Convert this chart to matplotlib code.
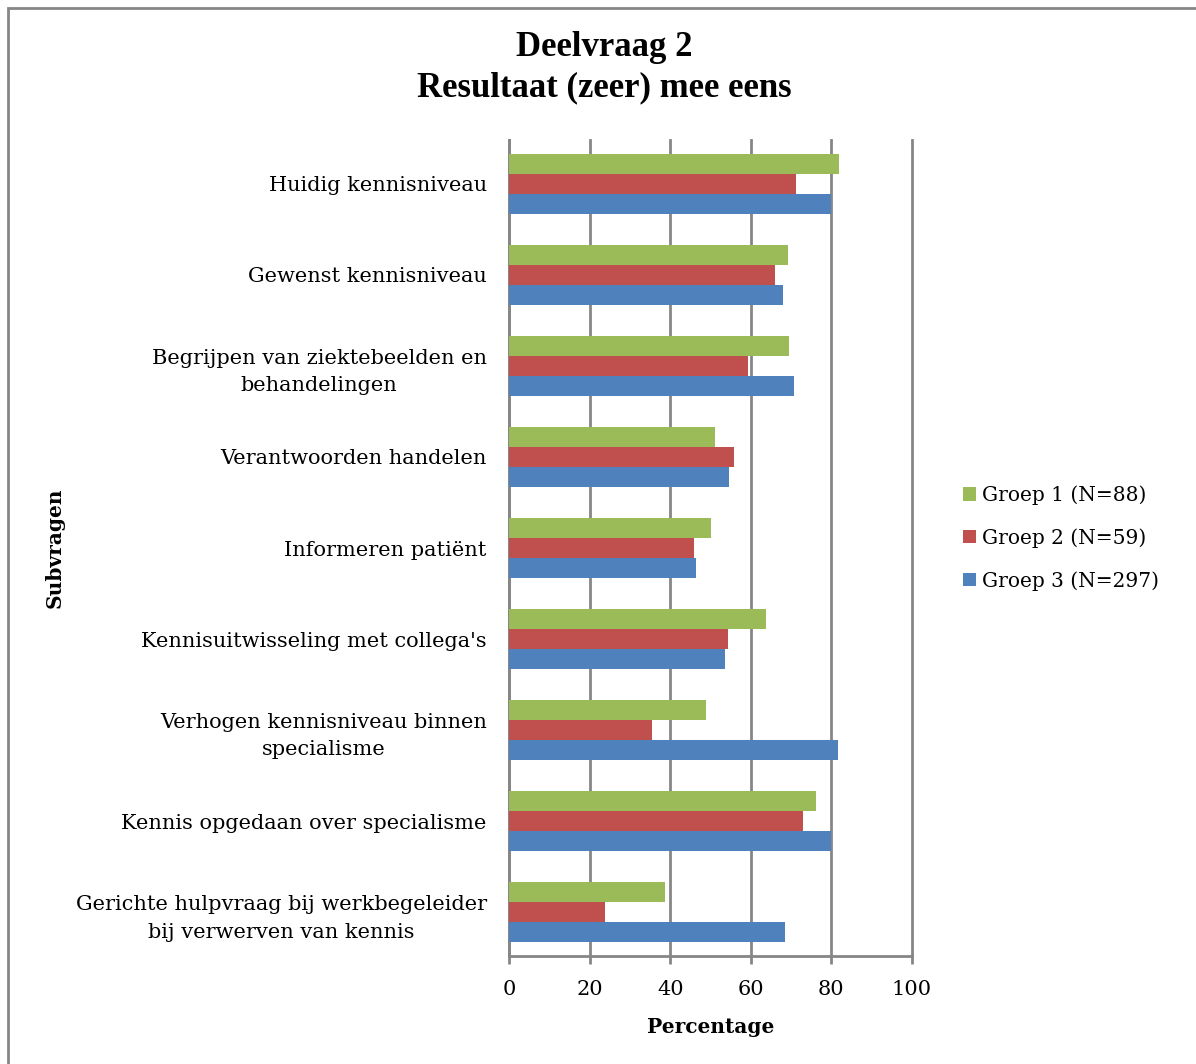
import matplotlib
matplotlib.use("Agg")
import matplotlib.pyplot as plt
import matplotlib.transforms as mtransforms
import numpy as np
from matplotlib.patches import Rectangle

categories = [
    "Huidig kennisniveau",
    "Gewenst kennisniveau",
    "Begrijpen van ziektebeelden en\nbehandelingen",
    "Verantwoorden handelen",
    "Informeren patiënt",
    "Kennisuitwisseling met collega's",
    "Verhogen kennisniveau binnen\nspecialisme",
    "Kennis opgedaan over specialisme",
    "Gerichte hulpvraag bij werkbegeleider\nbij verwerven van kennis",
]
groep1 = [81.9, 69.3, 69.4, 51.1, 50.0, 63.7, 48.8, 76.3, 38.7]
groep2 = [71.3, 66.1, 59.3, 55.9, 45.8, 54.4, 35.5, 72.9, 23.7]
groep3 = [80.0, 68.0, 70.7, 54.6, 46.5, 53.7, 81.7, 80.0, 68.4]
series_names = ["Groep 1 (N=88)", "Groep 2 (N=59)", "Groep 3 (N=297)"]
colors = ["#9BBB59", "#C0504D", "#4F81BD"]
xticks = [0, 20, 40, 60, 80, 100]

plt.rcParams['font.family'] = ['DejaVu Serif']

fig = plt.figure(figsize=(11.96, 10.64), dpi=100)
ax = fig.add_axes([509/1196, 1 - 956/1064, (912-509)/1196, (956-140)/1064])

y = np.arange(len(categories))
h = 0.22
offsets = [-h, 0, h]
handles = []
for vals, off, c, name in zip([groep1, groep2, groep3], offsets, colors, series_names):
    b = ax.barh(y + off, vals, height=h, color=c, label=name, zorder=3)
    handles.append(b)

ax.set_xlim(0, 100)
ax.set_ylim(len(categories) - 0.52, -0.48)
ax.set_xticks(xticks)
ax.set_xticklabels([str(t) for t in xticks], fontsize=15)
ax.set_yticks(y)
ax.set_yticklabels(categories, fontsize=15, multialignment='center',
                   linespacing=1.55)
shift = mtransforms.ScaledTranslation(0, 2/100, fig.dpi_scale_trans)
for lbl in ax.get_yticklabels():
    lbl.set_transform(lbl.get_transform() + shift)
ax.tick_params(axis='y', length=0, pad=16)
ax.tick_params(axis='x', length=6, width=2, color='#868686', pad=11)
ax.grid(axis='x', color='#868686', linewidth=2, zorder=0)
for gl in ax.get_xgridlines():
    gl.set_clip_on(False)
for s in ['top', 'right']:
    ax.spines[s].set_visible(False)
for s in ['left', 'bottom']:
    ax.spines[s].set_color('#868686')
    ax.spines[s].set_linewidth(2)

ax.set_xlabel("Percentage", fontsize=14.5, fontweight='bold', labelpad=13)
fig.text(55/1196, 1 - 548/1064, "Subvragen", rotation=90, fontsize=14.5,
         fontweight='bold', ha='center', va='center')

fig.text(604/1196, 1 - 48/1064, "Deelvraag 2", family='Liberation Serif',
         fontsize=25, fontweight='bold', ha='center', va='center')
fig.text(604/1196, 1 - 88/1064, "Resultaat (zeer) mee eens", family='Liberation Serif',
         fontsize=25, fontweight='bold', ha='center', va='center')

leg = fig.legend(handles=handles, loc='center left',
                 bbox_to_anchor=(953/1196, 1 - 538/1064), frameon=False,
                 fontsize=14.5, handlelength=0.65, handleheight=0.65,
                 handletextpad=0.3, labelspacing=1.15, borderpad=0)

fig.patches.append(Rectangle((8/1196, -0.1), 1.2, 1 - 8/1064 + 0.1,
                             transform=fig.transFigure, fill=False,
                             edgecolor='#868686', linewidth=2))

fig.savefig("out.png", dpi=100)
